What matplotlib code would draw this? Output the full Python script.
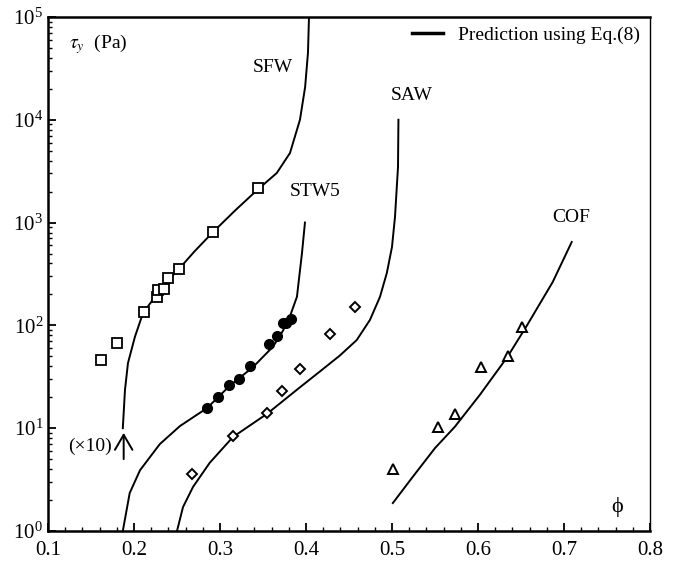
import numpy as np
import matplotlib
matplotlib.use('Agg')
import matplotlib.pyplot as plt
from matplotlib.lines import Line2D
from matplotlib.ticker import MultipleLocator, LogLocator, LogFormatterMathtext, FormatStrFormatter

plt.rcParams['font.family'] = ['Liberation Serif', 'DejaVu Serif']
plt.rcParams['mathtext.fontset'] = 'stix'

# measured data (phi, tau_y in Pa)
sfw_x = [0.162, 0.180, 0.212, 0.227, 0.228, 0.235, 0.240, 0.252, 0.292, 0.344]
sfw_y = [46, 67, 135, 189, 220, 225, 290, 354, 810, 2180]
stw5_x = [0.285, 0.298, 0.310, 0.322, 0.335, 0.357, 0.366, 0.373, 0.377, 0.383]
stw5_y = [15.7, 20, 26.4, 30, 40, 66, 79, 105, 105, 115]
saw_x = [0.267, 0.315, 0.355, 0.372, 0.393, 0.428, 0.457]
saw_y = [3.6, 8.4, 14.1, 23, 37.7, 82, 150]
cof_x = [0.501, 0.553, 0.573, 0.603, 0.635, 0.651]
cof_y = [4.0, 10.3, 13.7, 39, 50, 96]

# predicted curves, Eq.(8)
sfw_cx = [0.187, 0.1895, 0.193, 0.201, 0.2105, 0.2244, 0.238, 0.2523, 0.27, 0.292,
          0.318, 0.344, 0.366, 0.3814, 0.393, 0.399, 0.4023, 0.4035]
sfw_cy = [10, 23.5, 43, 77, 132, 189, 265, 354, 520, 810,
          1320, 2100, 3030, 4750, 10000, 20800, 44700, 100000]
stw5_cx = [0.187, 0.195, 0.207, 0.230, 0.2535, 0.285, 0.3116, 0.338, 0.3616, 0.373,
           0.381, 0.3895, 0.392, 0.3953, 0.3988]
stw5_cy = [1, 2.34, 3.9, 7.0, 10.5, 15.7, 26, 39, 62, 88,
           120, 190, 290, 500, 1000]
saw_cx = [0.250, 0.257, 0.2686, 0.288, 0.315, 0.3547, 0.393, 0.416, 0.4395, 0.459,
          0.4744, 0.486, 0.494, 0.500, 0.5035, 0.507, 0.5075]
saw_cy = [1.0, 1.71, 2.68, 4.6, 8.2, 13.8, 25, 35.5, 51, 72,
          113, 189, 323, 579, 1135, 3470, 10000]
cof_cx = [0.501, 0.524, 0.550, 0.573, 0.602, 0.634, 0.657, 0.687, 0.709]
cof_cy = [1.87, 3.35, 6.4, 10.3, 21, 49, 100, 265, 647]

fig = plt.figure(figsize=(6.76, 5.64), dpi=100)
ax = fig.add_axes([0.071, 0.0585, 0.8905, 0.9115])

for cx, cy in [(sfw_cx, sfw_cy), (stw5_cx, stw5_cy), (saw_cx, saw_cy), (cof_cx, cof_cy)]:
    ax.plot(cx, cy, color='k', linewidth=1.4)

ax.plot(sfw_x, sfw_y, 's', mfc='white', mec='k', mew=1.3, ms=6.5)
ax.plot(stw5_x, stw5_y, 'o', mfc='k', mec='k', ms=7)
ax.plot(saw_x, saw_y, 'D', mfc='white', mec='k', mew=1.4, ms=5.2)
ax.plot(cof_x, cof_y, '^', mfc='white', mec='k', mew=1.4, ms=6.5)

ax.set_yscale('log')
ax.set_xlim(0.1, 0.8)
ax.set_ylim(1, 1e5)

# the "(x10)" marker arrow under SFW
ax.annotate('', xy=(0.188, 9.0), xytext=(0.188, 5.0),
            arrowprops=dict(arrowstyle='->, head_length=0.6, head_width=0.35',
                            color='k', lw=1.4, mutation_scale=18,
                            shrinkA=0, shrinkB=0))
ax.text(0.174, 6.6, '(\u00d710)', fontsize=14, ha='right', va='center')

ax.text(0.3616, 32500, 'SFW', fontsize=14, ha='center', va='center')
ax.text(0.4105, 2000, 'STW5', fontsize=14, ha='center', va='center')
ax.text(0.5233, 17400, 'SAW', fontsize=14, ha='center', va='center')
ax.text(0.708, 1110, 'COF', fontsize=14, ha='center', va='center')
ax.text(0.7616, 1.71, '\u03d5', fontsize=16, ha='center', va='center')
ax.text(0.035, 0.948, r'$\tau_y$  (Pa)', fontsize=14, transform=ax.transAxes, va='center')

ax.legend(handles=[Line2D([], [], color='k', lw=2.5)], labels=['Prediction using Eq.(8)'],
          loc='upper right', frameon=False, fontsize=14, handlelength=1.6,
          borderaxespad=0.1)

ax.xaxis.set_major_locator(MultipleLocator(0.1))
ax.xaxis.set_minor_locator(MultipleLocator(0.02))
ax.xaxis.set_major_formatter(FormatStrFormatter('%.1f'))
ax.yaxis.set_major_locator(LogLocator(base=10, numticks=10))
ax.yaxis.set_minor_locator(LogLocator(base=10, subs=np.arange(2, 10), numticks=20))
ax.yaxis.set_major_formatter(LogFormatterMathtext())
ax.tick_params(which='both', direction='in', top=False, right=False, labelsize=15)
ax.tick_params(which='major', length=6, width=1.3)
ax.tick_params(which='minor', length=3, width=1.0)
ax.tick_params(axis='x', pad=7)

for side in ['left', 'bottom', 'top']:
    ax.spines[side].set_linewidth(1.8)
ax.spines['right'].set_linewidth(1.0)

fig.savefig('out.png', dpi=100)
